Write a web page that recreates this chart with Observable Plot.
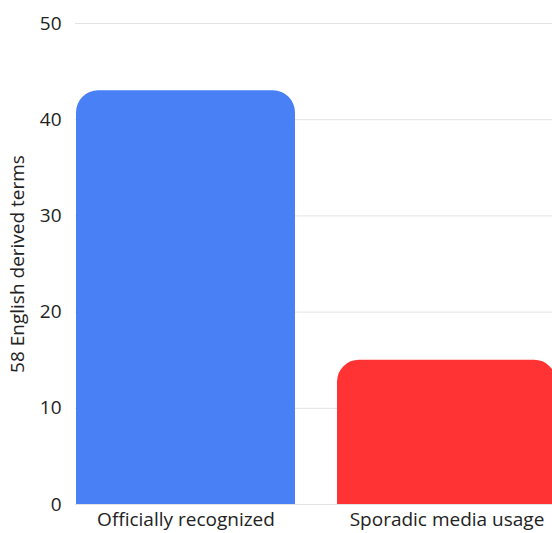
<!DOCTYPE html>
<html>
<head>
<meta charset="utf-8">
<script src="https://cdn.jsdelivr.net/npm/d3@7"></script>
<script src="https://cdn.jsdelivr.net/npm/@observablehq/plot@0.6"></script>
<style>
  html, body { margin: 0; padding: 0; background: #fff; overflow: hidden; }
  #chart svg { font-family: "Open Sans", sans-serif; }
</style>
</head>
<body>
<div id="chart"></div>
<script>
const categories = ["Officially recognized", "Sporadic media usage"];
const counts = [43, 15];
const barColors = ["#4a80f5", "#ff3333"];
const yTicks = [0, 10, 20, 30, 40, 50];
const yLabel = "58 English derived terms";

const data = categories.map((c, i) => ({category: c, count: counts[i], color: barColors[i]}));

const chart = Plot.plot({
  width: 552,
  height: 560,
  marginTop: 23,
  marginBottom: 56,
  marginLeft: 75,
  marginRight: 0,
  style: {fontFamily: "Open Sans, sans-serif", color: "#222"},
  x: {
    domain: categories,
    range: [75, 557],
    paddingInner: 0.16,
    paddingOuter: 0
  },
  y: {
    domain: [0, 50]
  },
  marks: [
    Plot.gridY(yTicks, {stroke: "#e3e3e3", strokeOpacity: 1}),
    // rounded top of each bar
    Plot.barY(data, {x: "category", y: "count", fill: "color", rx: 22}),
    // square off the bottom corners
    Plot.barY(data, {x: "category", y1: 0, y2: d => d.count / 2, fill: "color"}),
    Plot.axisY(yTicks, {tickSize: 0, tickPadding: 14, fontSize: 19, label: null}),
    Plot.axisX({tickSize: 0, tickPadding: 8, fontSize: 19, label: null}),
    Plot.text([yLabel], {
      frameAnchor: "left",
      textAnchor: "middle",
      dx: -58,
      rotate: -90,
      fontSize: 19,
      fill: "#222"
    })
  ]
});

document.getElementById("chart").appendChild(chart);
</script>
</body>
</html>
